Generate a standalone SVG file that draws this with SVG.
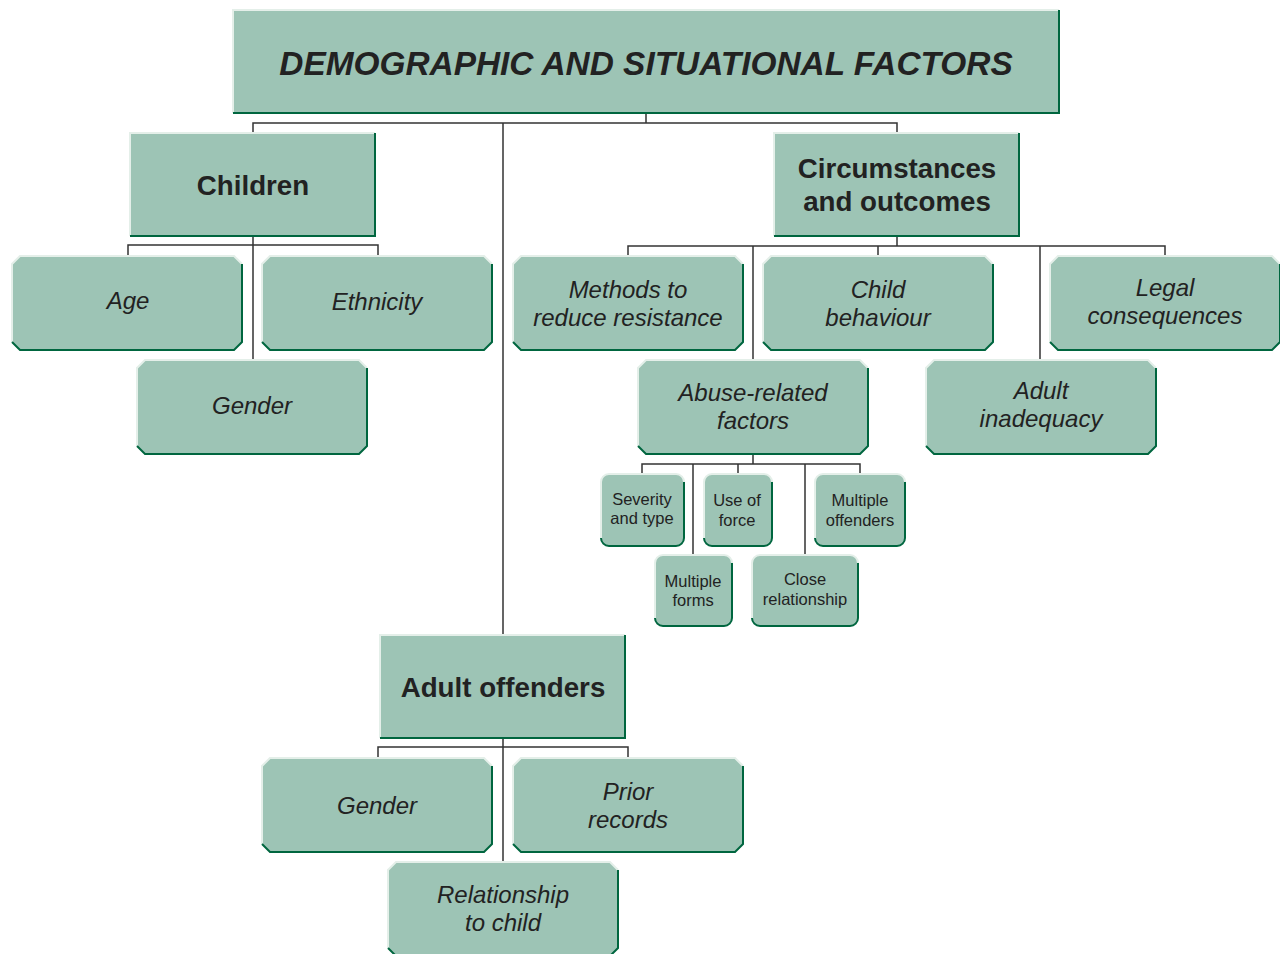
<svg xmlns="http://www.w3.org/2000/svg" xmlns:xlink="http://www.w3.org/1999/xlink" width="1280" height="954" viewBox="0 0 1280 954">
<style>
.fill{fill:#9dc4b5}
.lt{fill:none;stroke:#e4efe9;stroke-width:2}
.dk{fill:none;stroke:#00663f;stroke-width:2}
.ln{fill:none;stroke:#333;stroke-width:1.5}
text{font-family:"Liberation Sans",Arial,sans-serif;fill:#222;text-anchor:middle}
.t{font-size:33.4px;font-weight:bold;font-style:italic}
.h{font-size:27.7px;font-weight:bold}
.i{font-size:24px;font-style:italic}
.s{font-size:16.5px}
</style>
<defs>
<g id="oct">
<polygon class="fill" points="8,0 222,0 230,8 230,86 222,94 8,94 0,86 0,8"/>
<path class="lt" d="M0,86 V8 L8,0 H222 L230,8"/>
<path class="dk" d="M230,8 V86 L222,94 H8 L0,86"/>
</g>
<g id="hdr">
<rect class="fill" x="0" y="0" width="245" height="103"/>
<path class="lt" d="M0,103 V0 H245"/>
<path class="dk" d="M245,0 V103 H0"/>
</g>
</defs>
<g id="connectors">
<path class="ln" d="M646,113 V123 M253,133 V123 H897 V133 M503,123 V635"/>
<path class="ln" d="M253,236 V360 M128,256 V245 H378 V256"/>
<path class="ln" d="M897,236 V246 M628,256 V246 H1165 V256 M878,246 V256 M753,246 V360 M1040,246 V360"/>
<path class="ln" d="M753,454 V464 M642,474 V464 H860 V474 M738,464 V474 M693,464 V555 M805,464 V555"/>
<path class="ln" d="M503,738 V862 M378,758 V747 H628 V758"/>
</g>
<g id="title">
<rect class="fill" x="233" y="10" width="826" height="103"/>
<path class="lt" d="M233,113 V10 H1059"/>
<path class="dk" d="M1059,10 V113 H233"/>
<text class="t" x="646" y="75">DEMOGRAPHIC AND SITUATIONAL FACTORS</text>
</g>
<g id="children">
<use xlink:href="#hdr" x="130" y="133"/>
<text class="h" x="253" y="195">Children</text>
</g>
<g id="circumstances">
<use xlink:href="#hdr" x="774" y="133"/>
<text class="h" x="897" y="178">Circumstances</text>
<text class="h" x="897" y="211">and outcomes</text>
</g>
<g id="adult-offenders">
<use xlink:href="#hdr" x="380" y="635"/>
<text class="h" x="503" y="697">Adult offenders</text>
</g>
<g id="age">
<use xlink:href="#oct" x="12" y="256"/>
<text class="i" x="128" y="309">Age</text>
</g>
<g id="ethnicity">
<use xlink:href="#oct" x="262" y="256"/>
<text class="i" x="377" y="310">Ethnicity</text>
</g>
<g id="gender-child">
<use xlink:href="#oct" x="137" y="360"/>
<text class="i" x="252" y="414">Gender</text>
</g>
<g id="methods">
<use xlink:href="#oct" x="513" y="256"/>
<text class="i" x="628" y="298">Methods to</text>
<text class="i" x="628" y="326">reduce resistance</text>
</g>
<g id="child-behaviour">
<use xlink:href="#oct" x="763" y="256"/>
<text class="i" x="878" y="298">Child</text>
<text class="i" x="878" y="326">behaviour</text>
</g>
<g id="legal">
<use xlink:href="#oct" x="1050" y="256"/>
<text class="i" x="1165" y="296">Legal</text>
<text class="i" x="1165" y="324">consequences</text>
</g>
<g id="abuse">
<use xlink:href="#oct" x="638" y="360"/>
<text class="i" x="753" y="401">Abuse-related</text>
<text class="i" x="753" y="429">factors</text>
</g>
<g id="adult-inadequacy">
<use xlink:href="#oct" x="926" y="360"/>
<text class="i" x="1041" y="399">Adult</text>
<text class="i" x="1041" y="427">inadequacy</text>
</g>
<g id="gender-adult">
<use xlink:href="#oct" x="262" y="758"/>
<text class="i" x="377" y="814">Gender</text>
</g>
<g id="prior">
<use xlink:href="#oct" x="513" y="758"/>
<text class="i" x="628" y="800">Prior</text>
<text class="i" x="628" y="828">records</text>
</g>
<g id="relationship">
<use xlink:href="#oct" x="388" y="862"/>
<text class="i" x="503" y="903">Relationship</text>
<text class="i" x="503" y="931">to child</text>
</g>
<g id="severity">
<rect class="fill" x="601" y="474" width="83" height="72" rx="8"/>
<path class="lt" d="M601,538 V482 A8,8 0 0 1 609,474 H676 A8,8 0 0 1 684,482"/>
<path class="dk" d="M684,482 V538 A8,8 0 0 1 676,546 H609 A8,8 0 0 1 601,538"/>
<text class="s" x="642" y="505">Severity</text>
<text class="s" x="642" y="524">and type</text>
</g>
<g id="use-of-force">
<rect class="fill" x="704" y="474" width="68" height="72" rx="8"/>
<path class="lt" d="M704,538 V482 A8,8 0 0 1 712,474 H764 A8,8 0 0 1 772,482"/>
<path class="dk" d="M772,482 V538 A8,8 0 0 1 764,546 H712 A8,8 0 0 1 704,538"/>
<text class="s" x="737" y="506">Use of</text>
<text class="s" x="737" y="526">force</text>
</g>
<g id="multiple-offenders">
<rect class="fill" x="815" y="474" width="90" height="72" rx="8"/>
<path class="lt" d="M815,538 V482 A8,8 0 0 1 823,474 H897 A8,8 0 0 1 905,482"/>
<path class="dk" d="M905,482 V538 A8,8 0 0 1 897,546 H823 A8,8 0 0 1 815,538"/>
<text class="s" x="860" y="506">Multiple</text>
<text class="s" x="860" y="526">offenders</text>
</g>
<g id="multiple-forms">
<rect class="fill" x="655" y="555" width="77" height="71" rx="8"/>
<path class="lt" d="M655,618 V563 A8,8 0 0 1 663,555 H724 A8,8 0 0 1 732,563"/>
<path class="dk" d="M732,563 V618 A8,8 0 0 1 724,626 H663 A8,8 0 0 1 655,618"/>
<text class="s" x="693" y="587">Multiple</text>
<text class="s" x="693" y="606">forms</text>
</g>
<g id="close-relationship">
<rect class="fill" x="752" y="555" width="106" height="71" rx="8"/>
<path class="lt" d="M752,618 V563 A8,8 0 0 1 760,555 H850 A8,8 0 0 1 858,563"/>
<path class="dk" d="M858,563 V618 A8,8 0 0 1 850,626 H760 A8,8 0 0 1 752,618"/>
<text class="s" x="805" y="585">Close</text>
<text class="s" x="805" y="605">relationship</text>
</g>
</svg>
